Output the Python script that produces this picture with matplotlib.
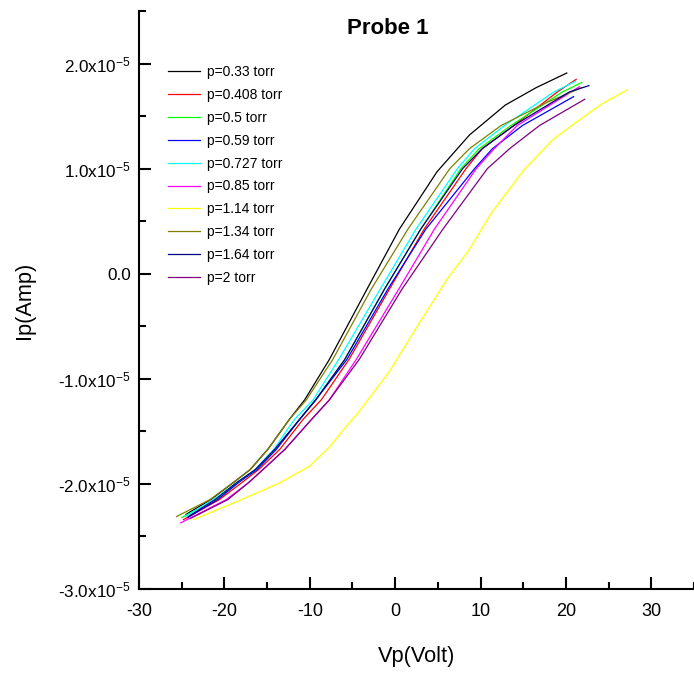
import matplotlib
matplotlib.use("Agg")
import matplotlib.pyplot as plt
from matplotlib import font_manager
from matplotlib.ticker import MultipleLocator, FixedLocator, FixedFormatter
import numpy as np

# pressures (legend) and colours, Origin-style palette
labels = ["p=0.33 torr", "p=0.408 torr", "p=0.5 torr", "p=0.59 torr", "p=0.727 torr",
          "p=0.85 torr", "p=1.14 torr", "p=1.34 torr", "p=1.64 torr", "p=2 torr"]
colors = ["#000000", "#ff0000", "#00ff00", "#0000ff", "#00ffff",
          "#ff00ff", "#ffff00", "#808000", "#000080", "#800080"]

# probe voltage (V) and probe current (x1e-5 A)
v_033 = [-24.5, -21.6, -19.0, -17.0, -14.9, -12.4, -10.6, -7.7, -3.3, 0.5, 4.9, 8.7, 12.9, 16.5, 20.1]
i_033 = [-2.29, -2.15, -1.99, -1.865, -1.67, -1.387, -1.20, -0.815, -0.147, 0.425, 0.97, 1.32, 1.605, 1.77, 1.91]

v_0408 = [-24.8, -20.6, -18.0, -16.0, -13.5, -10.8, -8.65, -5.4, -0.67, 3.4, 8.3, 10.2, 13.9, 19.0, 21.2]
i_0408 = [-2.34, -2.15, -1.99, -1.865, -1.67, -1.387, -1.20, -0.815, -0.147, 0.425, 1.0, 1.19, 1.41, 1.73, 1.85]

v_05 = [-25.0, -21.0, -18.4, -16.4, -14.0, -11.2, -9.3, -5.9, -1.25, 3.0, 7.7, 9.85, 13.55, 19.6, 21.85]
i_05 = [-2.32, -2.15, -1.99, -1.865, -1.67, -1.387, -1.20, -0.815, -0.147, 0.425, 1.0, 1.19, 1.41, 1.73, 1.82]

v_059 = [-24.3, -20.8, -18.4, -16.2, -13.9, -11.2, -9.3, -5.65, -0.86, 3.6, 9.3, 11.4, 14.9, 20.9]
i_059 = [-2.32, -2.15, -1.99, -1.865, -1.67, -1.387, -1.20, -0.815, -0.147, 0.425, 1.0, 1.19, 1.41, 1.685]

v_0727 = [-24.6, -21.3, -18.6, -16.4, -14.2, -11.8, -9.6, -6.6, -1.75, 2.45, 7.3, 9.3, 12.8, 18.6, 21.1]
i_0727 = [-2.31, -2.15, -1.99, -1.865, -1.67, -1.387, -1.20, -0.815, -0.147, 0.425, 1.0, 1.19, 1.41, 1.73, 1.83]

v_085 = [-25.1, -19.8, -17.2, -15.5, -12.9, -9.8, -7.7, -4.55, 0.42, 4.6, 9.5, 11.6, 14.3, 20.6, 21.6]
i_085 = [-2.37, -2.15, -1.99, -1.865, -1.67, -1.387, -1.20, -0.815, -0.147, 0.425, 1.0, 1.19, 1.41, 1.73, 1.78]

v_114 = [-23.6, -18.0, -13.5, -10.0, -7.7, -5.9, -4.2, -0.67, 2.25, 6.1, 8.6, 11.3, 15.0, 18.4, 21.0, 24.3, 27.2]
i_114 = [-2.34, -2.15, -1.99, -1.83, -1.65, -1.47, -1.31, -0.93, -0.545, -0.05, 0.22, 0.58, 0.98, 1.27, 1.43, 1.62, 1.75]

v_134 = [-25.6, -21.7, -19.0, -17.0, -14.9, -12.4, -10.4, -7.3, -2.8, 1.5, 6.4, 8.7, 12.4, 17.5, 21.8]
i_134 = [-2.31, -2.15, -1.99, -1.865, -1.67, -1.387, -1.20, -0.815, -0.147, 0.425, 1.0, 1.19, 1.41, 1.62, 1.77]

v_164 = [-24.2, -21.1, -18.6, -16.4, -14.1, -11.2, -9.3, -5.9, -1.25, 3.0, 7.9, 10.2, 13.9, 20.4, 22.7]
i_164 = [-2.31, -2.15, -1.99, -1.865, -1.67, -1.387, -1.20, -0.815, -0.147, 0.425, 1.0, 1.19, 1.41, 1.73, 1.79]

v_2 = [-24.0, -19.6, -17.2, -15.5, -12.9, -9.8, -7.7, -4.2, 0.8, 5.6, 10.8, 13.4, 16.9, 22.2]
i_2 = [-2.33, -2.15, -1.99, -1.865, -1.67, -1.387, -1.20, -0.815, -0.147, 0.425, 1.0, 1.19, 1.41, 1.66]

volts = [v_033, v_0408, v_05, v_059, v_0727, v_085, v_114, v_134, v_164, v_2]
currents = [i_033, i_0408, i_05, i_059, i_0727, i_085, i_114, i_134, i_164, i_2]

x_ticks = [-30, -20, -10, 0, 10, 20, 30]
y_ticks = [-3e-5, -2e-5, -1e-5, 0.0, 1e-5, 2e-5]
y_ticklabels = [r"-3.0x10$^{-5}$", r"-2.0x10$^{-5}$", r"-1.0x10$^{-5}$", "0.0",
                r"1.0x10$^{-5}$", r"2.0x10$^{-5}$"]

# narrow Arial-like font if available, otherwise plain Liberation Sans
names = {f.name for f in font_manager.fontManager.ttflist}
if "Liberation Sans Narrow" in names:
    FONT = "Liberation Sans Narrow"
    fs_tick, fs_xtick, fs_label, fs_title, fs_leg = 15, 14.5, 19, 19.5, 12.3
else:
    FONT = "Liberation Sans"
    fs_tick, fs_xtick, fs_label, fs_title, fs_leg = 12.3, 13, 15.7, 16, 10

plt.rcParams["font.family"] = [FONT, "DejaVu Sans"]
plt.rcParams["axes.unicode_minus"] = False
plt.rcParams["mathtext.fontset"] = "custom"
plt.rcParams["mathtext.rm"] = FONT
plt.rcParams["mathtext.it"] = FONT
plt.rcParams["mathtext.bf"] = FONT + ":bold"

W, H = 694, 673
fig = plt.figure(figsize=(W / 100, H / 100), dpi=100)
ax = fig.add_axes([139 / W, 1 - 589 / H, (W - 139) / W, (589 - 11) / H])

for v, i, c, lab in zip(volts, currents, colors, labels):
    ax.plot(v, np.array(i) * 1e-5, color=c, lw=0.9, label=lab)

ax.set_xlim(-30, 35)
ax.set_ylim(-3e-5, 2.5e-5)

for s in ["top", "right"]:
    ax.spines[s].set_visible(False)
for s in ["left", "bottom"]:
    ax.spines[s].set_linewidth(1.5)

ax.xaxis.set_major_locator(FixedLocator(x_ticks))
ax.xaxis.set_minor_locator(MultipleLocator(5))
ax.yaxis.set_major_locator(FixedLocator(y_ticks))
ax.yaxis.set_major_formatter(FixedFormatter(y_ticklabels))
ax.yaxis.set_minor_locator(MultipleLocator(0.5e-5))
ax.tick_params(which="major", direction="in", length=8.5, width=1.5)
ax.tick_params(which="minor", direction="in", length=5, width=1.5)
ax.tick_params(axis="x", which="major", labelsize=fs_xtick, pad=10)
ax.tick_params(axis="y", which="major", labelsize=fs_tick, pad=6)

ax.set_xlabel("Vp(Volt)", fontsize=fs_label, labelpad=19)
ax.set_ylabel("Ip(Amp)", fontsize=fs_label, labelpad=17)
fig.text(388 / W, 1 - 28 / H, "Probe 1", fontsize=fs_title, fontweight="bold",
         ha="center", va="center")

ax.legend(loc="upper left", bbox_to_anchor=((168 - 139) / (W - 139), (589 - 65) / (589 - 11)),
          frameon=False, fontsize=fs_leg, handlelength=2.3, handletextpad=0.5,
          labelspacing=0.64, borderpad=0, borderaxespad=0)

fig.savefig("out.png", dpi=100)
